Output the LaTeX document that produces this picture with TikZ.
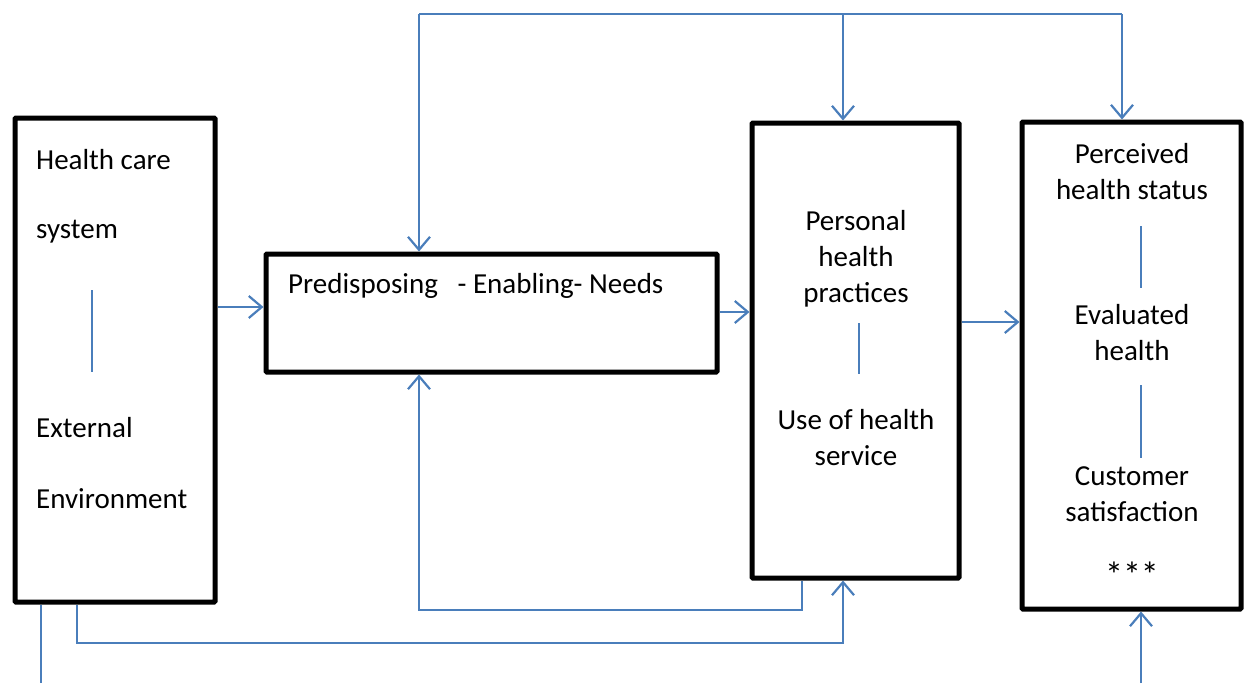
\documentclass[tikz,border=0pt]{standalone}
\usepackage{fontspec}
\setmainfont{Carlito}
\usetikzlibrary{arrows.meta,calc}
\definecolor{lineblue}{HTML}{4A7EBB}
\tikzset{
  box/.style={draw=black, line width=5pt, rounded corners=1pt, inner sep=0pt, fill=none},
  conn/.style={draw=lineblue, line width=2.2pt},
  arr/.style={conn, -{Straight Barb[length=13pt,width=22pt,line width=2.2pt]}},
  sep/.style={draw=lineblue, line width=1.5pt},
  txt/.style={inner sep=0pt, font=\fontsize{29}{36}\selectfont, align=center},
  ltxt/.style={inner sep=0pt, font=\fontsize{29}{36}\selectfont, anchor=west}
}
\begin{document}
\begin{tikzpicture}[x=1pt,y=-1pt]
\useasboundingbox (0,0) rectangle (1249,683);
% boxes
\node[box, minimum width=200pt, minimum height=484pt] (A) at (115,360) {};
\node[box, minimum width=451pt, minimum height=118pt] (B) at (491.5,313) {};
\node[box, minimum width=207pt, minimum height=455pt] (C) at (855.5,350.5) {};
\node[box, minimum width=219pt, minimum height=487pt] (D) at (1131.5,365.5) {};
% texts in A
\node[ltxt] (a1) at (36,160) {Health care};
\node[ltxt] (a2) at (36,232) {system};
\node[ltxt] (a3) at (36,428) {External};
\node[ltxt] (a4) at (36,499) {Environment};
% text in B
\node[ltxt] (b1) at (288,286) {Predisposing \ \ - Enabling- Needs};
% texts in C
\node[txt] (c1) at (856,259) {Personal\\health\\practices};
\node[txt] (c2) at (856,438) {Use of health\\service};
% texts in D
\node[txt] (d1) at (1132,172) {Perceived\\health status};
\node[txt] (d2) at (1132,333) {Evaluated\\health};
\node[txt] (d3) at (1132,494) {Customer\\satisfaction};
\node[inner sep=0pt, font=\fontsize{36}{36}\selectfont] (d4) at (1132,575) {***};
% separators
\draw[sep] (92,290) -- (92,372);
\draw[sep] (859,323) -- (859,374);
\draw[sep] (1141,226) -- (1141,288);
\draw[sep] (1141,385) -- (1141,458);
% top bus
\coordinate (tL) at (419,14);
\coordinate (tM) at (843,14);
\coordinate (tR) at (1122,14);
\draw[conn] (tL) -- (tR);
\draw[arr] (tL) -- (tL |- B.north);
\draw[arr] (tM) -- (tM |- C.north);
\draw[arr] (tR) -- (tR |- D.north);
% horizontal arrows
\draw[arr] (A.east |- 0,307) -- (B.west |- 0,307);
\draw[arr] (B.east |- 0,312) -- (C.west |- 0,312);
\draw[arr] (C.east |- 0,322) -- (D.west |- 0,322);
% bottom feedback C -> B
\coordinate (cb) at (802,0);
\draw[arr] (cb |- C.south) -- (802,610) -- (419,610) -- (419,0 |- B.south);
% A -> C
\coordinate (ab) at (77,0);
\draw[arr] (ab |- A.south) -- (77,643) -- (843,643) -- (843,0 |- C.south);
% A down line
\coordinate (ad) at (41,683);
\draw[conn] (ad |- A.south) -- (ad);
% bottom arrow into D
\coordinate (du) at (1141,683);
\draw[arr] (du) -- (du |- D.south);
\end{tikzpicture}
\end{document}
